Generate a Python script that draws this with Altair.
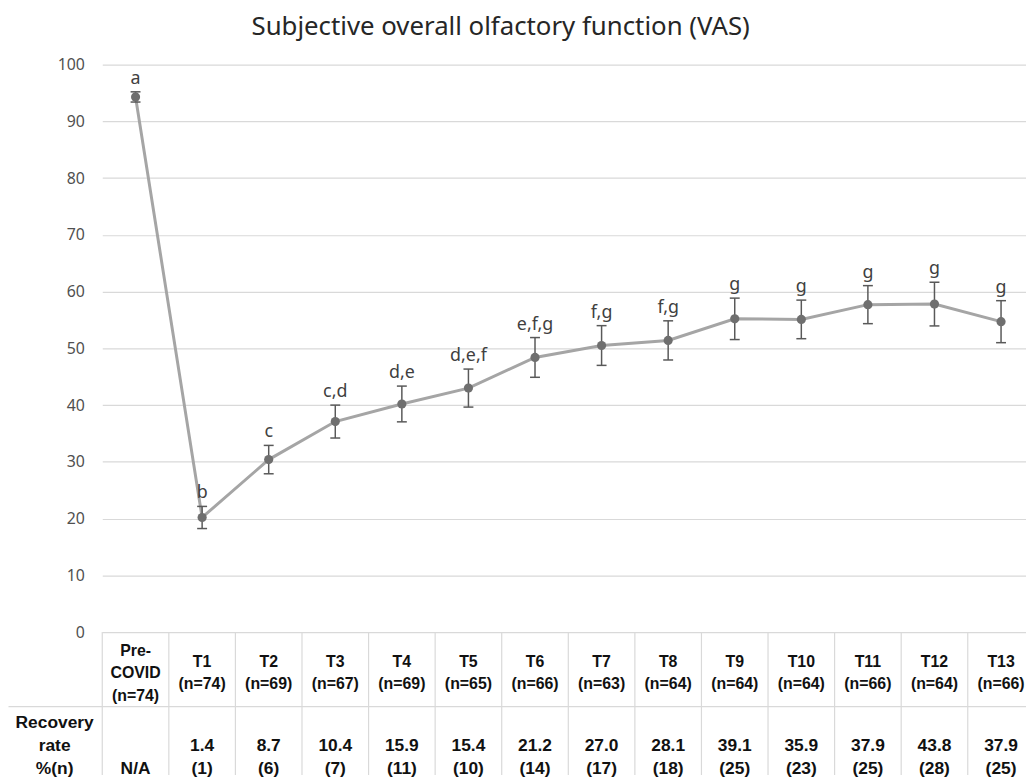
import altair as alt
import pandas as pd

# ---------------- data ----------------
categories = ["Pre-COVID", "T1", "T2", "T3", "T4", "T5", "T6", "T7",
              "T8", "T9", "T10", "T11", "T12", "T13"]
header_names = ["Pre-\nCOVID", "T1", "T2", "T3", "T4", "T5", "T6", "T7",
                "T8", "T9", "T10", "T11", "T12", "T13"]
sample_n = [74, 74, 69, 67, 69, 65, 66, 63, 64, 64, 64, 66, 64, 66]
vas_mean = [94.3, 20.2, 30.4, 37.1, 40.2, 43.0, 48.4, 50.5, 51.4, 55.2, 55.1, 57.7, 57.8, 54.7]
vas_se = [0.9, 1.95, 2.5, 2.9, 3.15, 3.35, 3.5, 3.5, 3.45, 3.65, 3.4, 3.35, 3.85, 3.7]
sig_letters = ["a", "b", "c", "c,d", "d,e", "d,e,f", "e,f,g", "f,g", "f,g",
               "g", "g", "g", "g", "g"]
recovery_rate = [None, 1.4, 8.7, 10.4, 15.9, 15.4, 21.2, 27.0, 28.1, 39.1, 35.9, 37.9, 43.8, 37.9]
recovery_n = [None, 1, 6, 7, 11, 10, 14, 17, 18, 25, 23, 25, 28, 25]
y_ticks = [0, 10, 20, 30, 40, 50, 60, 70, 80, 90, 100]
title_text = "Subjective overall olfactory function (VAS)"
row_label = "Recovery\nrate\n%(n)"

# ---------------- layout ----------------
W, H = 931, 716
PX_X = 67.1          # pixels per category
PX_Y = 5.72          # pixels per VAS unit
X0 = -0.5            # left edge of the plot area in category units
X_MAX = X0 + W / PX_X
Y_MIN = 100 - H / PX_Y
ROW_SPLIT = -75 / PX_Y
HEADER_CENTER = -41.5 / PX_Y
HEADER_LH = 22.5
ROW2_LAST = -138 / PX_Y
ROW2_LH = 23
LEFT_EDGE = X0 - 94.5 / PX_X
LEFT_LABEL_X = X0 - 48 / PX_X


def n_lines(s):
    return s.count("\n") + 1


# ---------------- tables built from the arrays ----------------
n_cat = len(categories)
headers = [f"{h}\n(n={n})" for h, n in zip(header_names, sample_n)]
recov = ["N/A" if r is None else f"{r:.1f}\n({k})"
         for r, k in zip(recovery_rate, recovery_n)]
df = pd.DataFrame({
    "idx": list(range(n_cat)),
    "cat": categories,
    "mean": vas_mean,
    "lo": [m - s for m, s in zip(vas_mean, vas_se)],
    "hi": [m + s for m, s in zip(vas_mean, vas_se)],
    "letter": sig_letters,
    "header": headers,
    "header_y": [HEADER_CENTER + (n_lines(h) - 1) / 2 * HEADER_LH / PX_Y for h in headers],
    "recov": recov,
    "recov_y": [ROW2_LAST + (n_lines(r) - 1) * ROW2_LH / PX_Y for r in recov],
})

xs = alt.Scale(domain=[X0, X_MAX], nice=False, zero=False)
ys = alt.Scale(domain=[Y_MIN, 100], nice=False, zero=False)
Y_AX = alt.Axis(values=y_ticks, title=None, ticks=False, domain=False,
                grid=True, gridColor="#d9d9d9", gridWidth=1.2,
                labelFont="Noto Sans", labelFontSize=16, labelColor="#505050",
                labelPadding=18)
X = alt.X("idx:Q", scale=xs, axis=None)

base = alt.Chart(df)

line = base.mark_line(color="#a5a5a5", strokeWidth=3).encode(
    x=X, y=alt.Y("mean:Q", scale=ys, axis=Y_AX))
err = base.mark_rule(color="#595959", strokeWidth=1.5).encode(
    x=X, y=alt.Y("lo:Q", scale=ys, axis=Y_AX), y2="hi:Q")
cap_hi = base.mark_tick(orient="horizontal", color="#595959", size=10,
                        thickness=1.5, opacity=1).encode(
    x=X, y=alt.Y("hi:Q", scale=ys, axis=Y_AX))
cap_lo = base.mark_tick(orient="horizontal", color="#595959", size=10,
                        thickness=1.5, opacity=1).encode(
    x=X, y=alt.Y("lo:Q", scale=ys, axis=Y_AX))
pts = base.mark_circle(size=85, color="#6f6f6f", opacity=1).encode(
    x=X, y=alt.Y("mean:Q", scale=ys, axis=Y_AX))
letters = base.mark_text(baseline="bottom", dy=-4, fontSize=18,
                         font="Noto Sans", color="#404040").encode(
    x=X, y=alt.Y("hi:Q", scale=ys, axis=Y_AX), text="letter:N")

# table borders
vlines = pd.DataFrame({"bx": [i - 0.5 for i in range(n_cat + 1)],
                       "y0": [0.0] * (n_cat + 1),
                       "y1": [Y_MIN] * (n_cat + 1)})
vrules = alt.Chart(vlines).mark_rule(color="#d9d9d9", strokeWidth=1.2).encode(
    x=alt.X("bx:Q", scale=xs, axis=None),
    y=alt.Y("y0:Q", scale=ys, axis=Y_AX),
    y2="y1:Q",
)
hl = pd.DataFrame({"x0": [LEFT_EDGE], "x1": [X_MAX + 1], "yy": [ROW_SPLIT]})
hrule = alt.Chart(hl).mark_rule(color="#d9d9d9", strokeWidth=1.2).encode(
    x=alt.X("x0:Q", scale=xs, axis=None),
    x2="x1:Q",
    y=alt.Y("yy:Q", scale=ys, axis=Y_AX),
)
header_txt = base.mark_text(lineBreak="\n", fontWeight="bold", fontSize=16,
                            lineHeight=HEADER_LH, baseline="middle",
                            font="Liberation Sans", color="#111111").encode(
    x=X, y=alt.Y("header_y:Q", scale=ys, axis=Y_AX), text="header:N")
row2_txt = base.mark_text(lineBreak="\n", fontWeight="bold", fontSize=17.5,
                          lineHeight=ROW2_LH, baseline="middle",
                          font="Liberation Sans", color="#111111").encode(
    x=X, y=alt.Y("recov_y:Q", scale=ys, axis=Y_AX), text="recov:N")
lbl_df = pd.DataFrame({"t": [row_label], "lx": [LEFT_LABEL_X],
                       "ly": [ROW2_LAST + 2 * ROW2_LH / PX_Y]})
left_lbl = alt.Chart(lbl_df).mark_text(
    lineBreak="\n", fontWeight="bold", fontSize=17.5, lineHeight=ROW2_LH,
    baseline="middle", font="Liberation Sans", color="#111111").encode(
    x=alt.X("lx:Q", scale=xs, axis=None),
    y=alt.Y("ly:Q", scale=ys, axis=Y_AX),
    text="t:N")

chart = alt.layer(
    line, vrules, hrule, err, cap_hi, cap_lo, pts, letters,
    header_txt, row2_txt, left_lbl,
).properties(
    width=W, height=H,
    background="white",
    autosize=alt.AutoSizeParams(type="none"),
    padding={"left": 95, "top": 54, "right": 0, "bottom": 0},
    title=alt.TitleParams(title_text, font="Noto Sans", fontSize=26,
                          fontWeight="normal", color="#262626",
                          anchor="middle", frame="group", dx=-64, offset=17),
).configure_view(strokeWidth=0)

chart.save("out.html", embed_options={"renderer": "svg", "actions": False})
